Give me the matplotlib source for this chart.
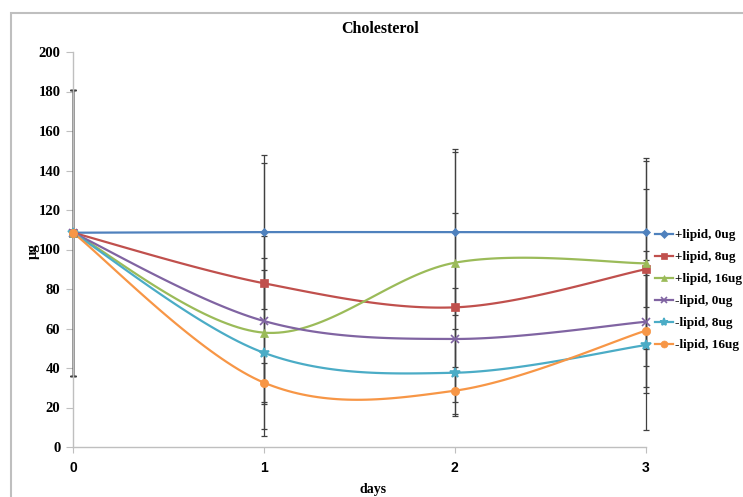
import numpy as np
import matplotlib
matplotlib.use("Agg")
import matplotlib.pyplot as plt
from matplotlib.lines import Line2D
from matplotlib.patches import Rectangle

# Cholesterol content (µg) over time, mean ± error per treatment
days = [0, 1, 2, 3]
day_labels = ["0", "1", "2", "3"]
y_ticks = [0, 20, 40, 60, 80, 100, 120, 140, 160, 180, 200]

series_names = ["+lipid, 0ug", "+lipid, 8ug", "+lipid, 16ug",
                "-lipid, 0ug", "-lipid, 8ug", "-lipid, 16ug"]

plus_0 = [108.5, 108.8, 108.8, 108.7]
plus_8 = [108.5, 82.9, 70.7, 90.0]
plus_16 = [108.5, 57.9, 93.3, 93.0]
minus_0 = [108.5, 63.8, 54.7, 63.4]
minus_8 = [108.5, 47.7, 37.6, 51.6]
minus_16 = [108.5, 32.6, 28.5, 58.9]

err_plus_0 = [72.5, 39.0, 42.0, 37.8]
err_plus_8 = [72.5, 61.0, 48.0, 40.5]
err_plus_16 = [72.5, 49.0, 56.0, 52.0]
err_minus_0 = [72.5, 31.7, 26.0, 36.0]
err_minus_8 = [72.5, 42.0, 22.0, 43.0]
err_minus_16 = [72.5, 10.0, 12.0, 28.4]

values = [plus_0, plus_8, plus_16, minus_0, minus_8, minus_16]
errors = [err_plus_0, err_plus_8, err_plus_16, err_minus_0, err_minus_8, err_minus_16]

colors = ["#4F81BD", "#C0504D", "#9BBB59", "#8064A2", "#4BACC6", "#F79646"]
markers = ["D", "s", "^", "x", "*", "o"]
msizes = [4, 6, 6, 6, 7, 6]


def smooth_curve(x, y, n=40):
    """Cubic Bezier smoothing through the points (spreadsheet-style)."""
    pts = np.column_stack([x, y]).astype(float)
    out = []
    m = len(pts)
    for i in range(m - 1):
        p0 = pts[i - 1] if i > 0 else pts[i]
        p1 = pts[i]
        p2 = pts[i + 1]
        p3 = pts[i + 2] if i + 2 < m else pts[i + 1]
        c1 = p1 + (p2 - p0) / 6.0
        c2 = p2 - (p3 - p1) / 6.0
        t = np.linspace(0, 1, n)[:, None]
        seg = ((1 - t) ** 3) * p1 + 3 * ((1 - t) ** 2) * t * c1 \
            + 3 * (1 - t) * t ** 2 * c2 + t ** 3 * p2
        out.append(seg if i == 0 else seg[1:])
    s = np.vstack(out)
    return s[:, 0], s[:, 1]


W, H = 743, 497
fig = plt.figure(figsize=(W / 100, H / 100), dpi=100)
fig.patch.set_facecolor("white")

# outer chart frame
fig.add_artist(Rectangle((11 / W, -0.1), 1.2, 1 - 13 / H + 0.1,
                         transform=fig.transFigure, fill=False,
                         edgecolor="#BFBFBF", linewidth=1.5))

left, right = 73 / W, 645.7 / W
bottom, top = 1 - 447 / H, 1 - 52 / H
ax = fig.add_axes([left, bottom, right - left, top - bottom])

serif = "Liberation Serif"
sans = "Liberation Sans"

for vals, errs, c in zip(values, errors, colors):
    ax.errorbar(days, vals, yerr=errs, fmt="none", ecolor="#404040",
                elinewidth=0.9, capsize=2, capthick=0.9, clip_on=False,
                zorder=2)

for vals, c, mk, ms in zip(values, colors, markers, msizes):
    sx, sy = smooth_curve(days, vals)
    ax.plot(sx, sy, color=c, lw=1.6, zorder=3, clip_on=False)
    ax.plot(days, vals, linestyle="none", marker=mk, color=c,
            markersize=ms, markeredgewidth=1.2 if mk in ("x", "*") else 0.5,
            markeredgecolor=c, zorder=4, clip_on=False)

ax.set_xlim(0, 3)
ax.set_ylim(0, 200)
ax.set_xticks(days)
ax.set_xticklabels(day_labels, fontfamily=sans, fontweight="bold", fontsize=10)
ax.set_yticks(y_ticks)
ax.set_yticklabels([str(v) for v in y_ticks], fontfamily=serif,
                   fontweight="bold", fontsize=10.5)
ax.tick_params(axis="x", length=4, color="#BFBFBF", pad=6)
ax.tick_params(axis="y", length=5, color="#BFBFBF", pad=4)

for side in ("top", "right"):
    ax.spines[side].set_visible(False)
for side in ("left", "bottom"):
    ax.spines[side].set_color("#BFBFBF")
    ax.spines[side].set_linewidth(1.0)
ax.set_facecolor("none")

fig.text(380 / W, 1 - 29 / H, "Cholesterol", ha="center", va="center",
         fontfamily=serif, fontweight="bold", fontsize=11.5)
fig.text(373 / W, 1 - 489 / H, "days", ha="center", va="center",
         fontfamily=serif, fontweight="bold", fontsize=10)
fig.text(33 / W, 1 - 251 / H, "µg", ha="center", va="center", rotation=90,
         fontfamily=serif, fontweight="bold", fontsize=10.5)

handles = [Line2D([0], [0], color=c, lw=1.6, marker=mk,
                  markersize=ms - 1 if ms > 4 else ms,
                  markeredgewidth=1.2 if mk in ("x", "*") else 0.5,
                  markeredgecolor=c)
           for c, mk, ms in zip(colors, markers, msizes)]
leg = fig.legend(handles, series_names, loc="upper left",
                 bbox_to_anchor=(655 / W, 1 - 229 / H), frameon=False,
                 prop={"family": serif, "weight": "bold", "size": 9.5},
                 handlelength=1.35, handletextpad=0.15, labelspacing=0.74,
                 borderaxespad=0, borderpad=0)

fig.savefig("out.png", dpi=100)
